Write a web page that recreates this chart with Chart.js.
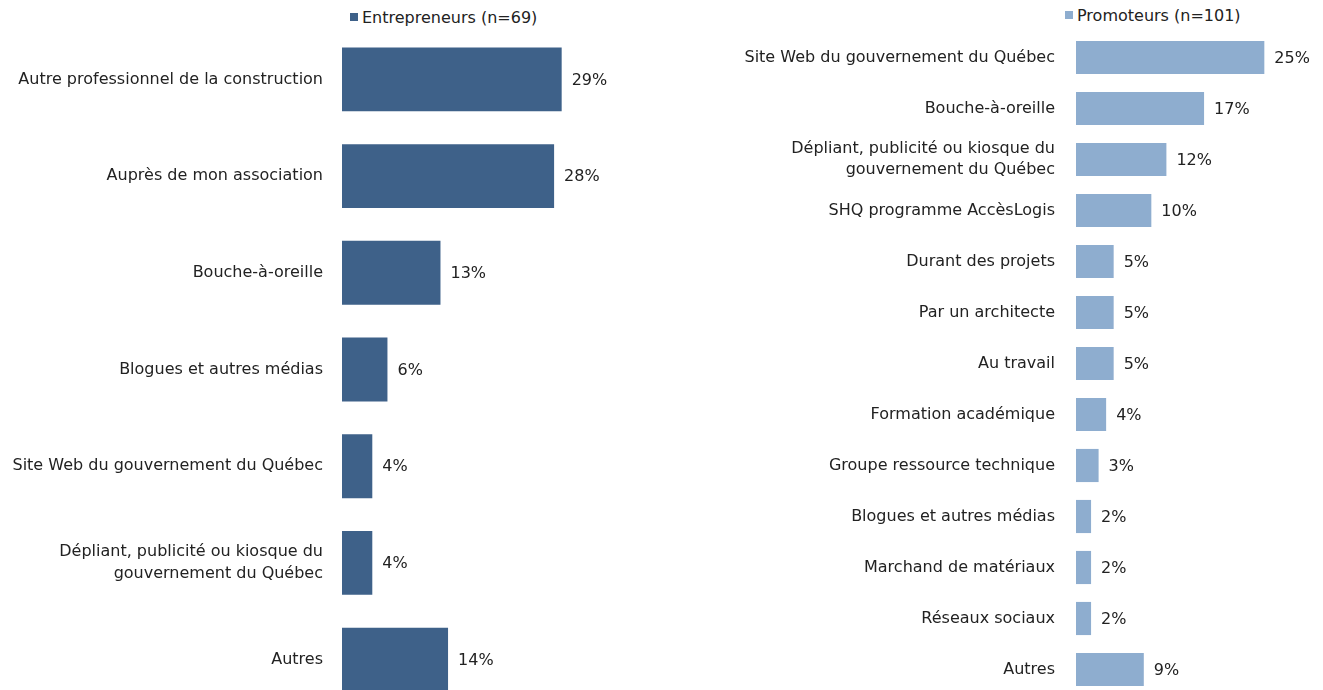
<!DOCTYPE html>
<html lang="fr">
<head>
<meta charset="utf-8">
<title>Sources d'information</title>
<script src="https://cdn.jsdelivr.net/npm/chart.js@4/dist/chart.umd.min.js"></script>
<style>
    html, body {
        margin: 0;
        padding: 0;
        background: #fff;
    }
    body {
        width: 1323px;
        height: 690px;
        overflow: hidden;
        position: relative;
        font-family: "DejaVu Sans", sans-serif;
    }
    canvas {
        position: absolute;
        top: 0;
    }
    #chartEntrepreneurs { left: 0; }
    #chartPromoteurs { left: 680px; }
    .legend {
        position: absolute;
        font-size: 16px;
        color: #222;
        white-space: nowrap;
    }
    .legend i {
        display: inline-block;
        width: 8px;
        height: 8px;
        margin-right: 4px;
        vertical-align: 2px;
    }
</style>
</head>
<body>

<div class="legend" style="left: 350px; top: 8px;"><i style="background:#3e6189"></i>Entrepreneurs (n=69)</div>
<div class="legend" style="left: 1065px; top: 6px;"><i style="background:#8eadcf"></i>Promoteurs (n=101)</div>

<canvas id="chartEntrepreneurs" width="660" height="720"></canvas>
<canvas id="chartPromoteurs" width="643" height="700"></canvas>

<script>
// Entrepreneurs
const entrepreneursLabels = [
    'Autre professionnel de la construction',
    'Auprès de mon association',
    'Bouche-à-oreille',
    'Blogues et autres médias',
    'Site Web du gouvernement du Québec',
    ['Dépliant, publicité ou kiosque du', 'gouvernement du Québec'],
    'Autres'
];
const entrepreneursValues = [29, 28, 13, 6, 4, 4, 14];

// Promoteurs
const promoteursLabels = [
    'Site Web du gouvernement du Québec',
    'Bouche-à-oreille',
    ['Dépliant, publicité ou kiosque du', 'gouvernement du Québec'],
    'SHQ programme AccèsLogis',
    'Durant des projets',
    'Par un architecte',
    'Au travail',
    'Formation académique',
    'Groupe ressource technique',
    'Blogues et autres médias',
    'Marchand de matériaux',
    'Réseaux sociaux',
    'Autres'
];
const promoteursValues = [25, 17, 12, 10, 5, 5, 5, 4, 3, 2, 2, 2, 9];

const textColor = '#222';
const fontFamily = '"DejaVu Sans", sans-serif';

// écrit la valeur au bout de chaque barre
const valueLabels = {
    id: 'valueLabels',
    afterDatasetsDraw(chart) {
        const ctx = chart.ctx;
        const meta = chart.getDatasetMeta(0);
        const data = chart.data.datasets[0].data;
        ctx.save();
        ctx.font = '16px ' + fontFamily;
        ctx.fillStyle = textColor;
        ctx.textAlign = 'left';
        ctx.textBaseline = 'middle';
        meta.data.forEach((bar, i) => {
            ctx.fillText(data[i] + '%', bar.x + 10, bar.y + 1);
        });
        ctx.restore();
    }
};

function makeChart(canvasId, labels, values, color, opts) {
    return new Chart(document.getElementById(canvasId), {
        type: 'bar',
        data: {
            labels: labels,
            datasets: [{
                data: values,
                backgroundColor: color,
                borderWidth: 0,
                categoryPercentage: 1,
                barPercentage: opts.barPercentage
            }]
        },
        options: {
            indexAxis: 'y',
            responsive: false,
            animation: false,
            layout: {
                padding: { top: opts.top, bottom: opts.bottom, right: opts.right, left: 0 }
            },
            plugins: {
                legend: { display: false },
                tooltip: { enabled: false }
            },
            scales: {
                x: {
                    display: false,
                    min: 0,
                    max: opts.max
                },
                y: {
                    grid: { display: false, drawTicks: false },
                    border: { display: false },
                    afterFit(scale) {
                        // largeur fixe, sans marge verticale liée aux libellés
                        scale.width = opts.axisWidth;
                        scale.paddingTop = 0;
                        scale.paddingBottom = 0;
                    },
                    ticks: {
                        color: textColor,
                        padding: opts.tickPadding,
                        font: { family: fontFamily, size: 16, lineHeight: opts.lineHeight }
                    }
                }
            }
        },
        plugins: [valueLabels]
    });
}

makeChart('chartEntrepreneurs', entrepreneursLabels, entrepreneursValues, '#3e6189', {
    barPercentage: 0.66,
    top: 31,
    bottom: 12,
    right: 15,
    max: 40,
    axisWidth: 342,
    tickPadding: 19,
    lineHeight: 1.375
});

makeChart('chartPromoteurs', promoteursLabels, promoteursValues, '#8eadcf', {
    barPercentage: 0.65,
    top: 32,
    bottom: 5,
    right: 21,
    max: 30,
    axisWidth: 396,
    tickPadding: 21,
    lineHeight: 1.28
});
</script>
</body>
</html>
